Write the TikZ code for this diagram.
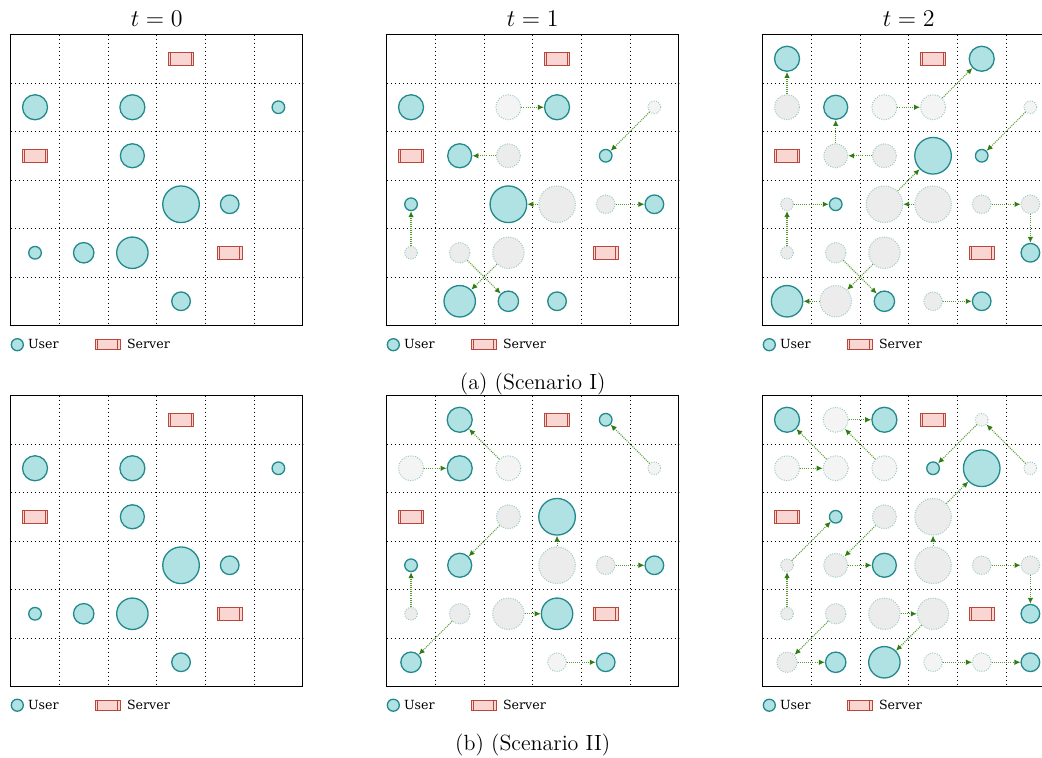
\documentclass[tikz,border=0pt]{standalone}
\usepackage{fontspec}
\newfontfamily\legfont{DejaVu Serif}
\usetikzlibrary{arrows.meta}
\definecolor{ufill}{HTML}{B0E2E3}
\definecolor{uline}{HTML}{23898C}
\definecolor{gfillA}{HTML}{F4F4F4}
\definecolor{gfillB}{HTML}{ECECEC}
\definecolor{gline}{HTML}{9CCBC3}
\definecolor{arr}{HTML}{5A9B36}
\definecolor{arrtip}{HTML}{2F7D12}
\definecolor{sfill}{HTML}{FAD6D2}
\definecolor{sline}{HTML}{B8473C}
\tikzset{
  user/.style={circle, draw=uline, fill=ufill, line width=0.65pt, inner sep=0pt},
  ghostL/.style={circle, draw=gline, fill=gfillA, line width=0.5pt, dash pattern=on 0.5pt off 0.7pt, inner sep=0pt},
  ghostD/.style={ghostL, fill=gfillB},
  mv/.style={draw=arr, line width=0.55pt, dash pattern=on 0.5pt off 0.55pt, -{Latex[length=3pt,width=2.8pt,color=arrtip]}},
  server/.style={rectangle, draw=sline, fill=sfill, line width=0.5pt, inner sep=0pt, minimum width=12.5pt, minimum height=6.4pt},
  srvline/.style={draw=sline, line width=0.5pt},
  gridl/.style={draw=black, line width=0.6pt},
  gdot/.style={draw=black, line width=0.5pt, dash pattern=on 0.5pt off 1.5pt},
  ttl/.style={inner sep=0pt, font=\fontsize{13}{15}\selectfont},
  captxt/.style={inner sep=0pt, font=\fontsize{11}{13}\selectfont},
  legtext/.style={inner sep=0pt, font=\legfont\fontsize{6.3}{7}\selectfont},
  panel/.style={x=24.335pt, y=-24.25pt}
}
\newcommand\srv[3][]{\node[server,#1] (#2) at (#3) {};
  \draw[srvline] ([xshift=1.4pt]#2.north west) -- ([xshift=1.4pt]#2.south west)
                 ([xshift=-1.4pt]#2.north east) -- ([xshift=-1.4pt]#2.south east);}
\newcommand\U[3]{\node[user,minimum size=#3pt] (#1) at (#2) {};}
\newcommand\GL[3]{\node[ghostL,minimum size=#3pt] (#1) at (#2) {};}
\newcommand\GD[3]{\node[ghostD,minimum size=#3pt] (#1) at (#2) {};}
\newcommand\mv[2]{\draw[mv] (#1) -- (#2);}
\newcommand\gridpanel{%
  \foreach \k in {0.5,1.5,2.5,3.5,4.5}{\draw[gdot] (\k,-0.5) -- (\k,5.5); \draw[gdot] (-0.5,\k) -- (5.5,\k);}
  \draw[gridl] (-0.5,-0.5) rectangle (5.5,5.5);
  \srv{s1}{3,0}\srv{s2}{0,2}\srv{s3}{4,4}}
\newcommand\legendrow[3]{%
  \begin{scope}[name prefix=#1, shift={(#2,#3)}]
    \node[user,minimum size=6pt] (lu) at (6.6,0) {};
    \node[legtext,anchor=base west] (lut) at (17,4) {User};
    \srv[minimum height=5.2pt]{ls}{96.8,0}
    \node[legtext,anchor=base west] (lst) at (116,4) {Server};
  \end{scope}}
\newcommand\panelzero{%
  \gridpanel
  \U{uA}{0,1}{12.5}\U{uB}{2,1}{12.5}\U{uC}{5,1}{6.3}\U{uD}{2,2}{12}
  \U{uE}{3,3}{18.3}\U{uF}{4,3}{9.3}\U{uG}{0,4}{6.3}\U{uH}{1,4}{10.2}
  \U{uI}{2,4}{15.7}\U{uJ}{3,5}{9.3}}
\begin{document}
\begin{tikzpicture}[x=0.5pt,y=-0.5pt]
\useasboundingbox (0,0) rectangle (1042,757);
\clip (0,0) rectangle (1042,757);
% titles
\node[ttl,anchor=base] (T0) at (156.7,26) {$t=0$};
\node[ttl,anchor=base] (T1) at (532.7,26) {$t=1$};
\node[ttl,anchor=base] (T2) at (908.7,26) {$t=2$};
% ---------- Scenario I ----------
\begin{scope}[name prefix=a0-, xshift=17.517pt, yshift=-29.375pt, panel]
  \panelzero
\end{scope}
\begin{scope}[name prefix=a1-, xshift=205.517pt, yshift=-29.375pt, panel]
  \gridpanel
  \U{A}{0,1}{12.5}
  \GL{B0}{2,1}{12.5}\U{B}{3,1}{12.5}
  \GD{D0}{2,2}{12}\U{D}{1,2}{12}
  \GL{C0}{5,1}{6.3}\U{C}{4,2}{6.3}
  \GD{G0}{0,4}{6.3}\U{G}{0,3}{6.3}
  \GD{E0}{3,3}{18.3}\U{E}{2,3}{18.3}
  \GD{F0}{4,3}{9.3}\U{F}{5,3}{9.3}
  \GD{I0}{2,4}{15.7}\U{I}{1,5}{15.7}
  \GD{H0}{1,4}{10.2}\U{H}{2,5}{10.2}
  \U{J}{3,5}{9.3}
  \mv{B0}{B}\mv{D0}{D}\mv{C0}{C}\mv{G0}{G}\mv{E0}{E}\mv{F0}{F}\mv{I0}{I}\mv{H0}{H}
\end{scope}
\begin{scope}[name prefix=a2-, xshift=393.517pt, yshift=-29.375pt, panel]
  \gridpanel
  \GD{A0}{0,1}{12.5}\U{A}{0,0}{12.5}
  \GL{B0}{2,1}{12.5}\GL{B1}{3,1}{12.5}\U{B}{4,0}{12.5}
  \GD{D0}{2,2}{12}\GD{D1}{1,2}{12}\U{D}{1,1}{12}
  \GL{C0}{5,1}{6.3}\U{C}{4,2}{6.3}
  \GD{E0}{3,3}{18.3}\GD{E1}{2,3}{18.3}\U{E}{3,2}{18.3}
  \GD{G0}{0,4}{6.3}\GD{G1}{0,3}{6.3}\U{G}{1,3}{6.3}
  \GD{F0}{4,3}{9.3}\GD{F1}{5,3}{9.3}\U{F}{5,4}{9.3}
  \GD{H0}{1,4}{10.2}\U{H}{2,5}{10.2}
  \GD{I0}{2,4}{15.7}\GD{I1}{1,5}{15.7}\U{I}{0,5}{15.7}
  \GD{J0}{3,5}{9.3}\U{J}{4,5}{9.3}
  \mv{A0}{A}\mv{B0}{B1}\mv{B1}{B}\mv{D0}{D1}\mv{D1}{D}\mv{C0}{C}
  \mv{E0}{E1}\mv{E1}{E}\mv{G0}{G1}\mv{G1}{G}\mv{F0}{F1}\mv{F1}{F}
  \mv{H0}{H}\mv{I0}{I1}\mv{I1}{I}\mv{J0}{J}
\end{scope}
% ---------- Scenario II ----------
\begin{scope}[name prefix=b0-, xshift=17.517pt, yshift=-209.875pt, panel]
  \panelzero
\end{scope}
\begin{scope}[name prefix=b1-, xshift=205.517pt, yshift=-209.875pt, panel]
  \gridpanel
  \GL{A0}{0,1}{12.5}\U{A}{1,1}{12.5}
  \GL{B0}{2,1}{12.5}\U{B}{1,0}{12.5}
  \GL{C0}{5,1}{6.3}\U{C}{4,0}{6.3}
  \GD{D0}{2,2}{12}\U{D}{1,3}{12}
  \GD{E0}{3,3}{18.3}\U{E}{3,2}{18.3}
  \GD{F0}{4,3}{9.3}\U{F}{5,3}{9.3}
  \GD{G0}{0,4}{6.3}\U{G}{0,3}{6.3}
  \GD{H0}{1,4}{10.2}\U{H}{0,5}{10.2}
  \GD{I0}{2,4}{15.7}\U{I}{3,4}{15.7}
  \GL{J0}{3,5}{9.3}\U{J}{4,5}{9.3}
  \mv{A0}{A}\mv{B0}{B}\mv{C0}{C}\mv{D0}{D}\mv{E0}{E}
  \mv{F0}{F}\mv{G0}{G}\mv{H0}{H}\mv{I0}{I}\mv{J0}{J}
\end{scope}
\begin{scope}[name prefix=b2-, xshift=393.517pt, yshift=-209.875pt, panel]
  \gridpanel
  \GL{A0}{0,1}{12.5}\GL{A1}{1,1}{12.5}\U{A}{0,0}{12.5}
  \GL{B0}{2,1}{12.5}\GL{B1}{1,0}{12.5}\U{B}{2,0}{12.5}
  \GL{C0}{5,1}{6.3}\GL{C1}{4,0}{6.3}\U{C}{3,1}{6.3}
  \GD{D0}{2,2}{12}\GD{D1}{1,3}{12}\U{D}{2,3}{12}
  \GD{E0}{3,3}{18.3}\GD{E1}{3,2}{18.3}\U{E}{4,1}{18.3}
  \GD{F0}{4,3}{9.3}\GD{F1}{5,3}{9.3}\U{F}{5,4}{9.3}
  \GD{G0}{0,4}{6.3}\GD{G1}{0,3}{6.3}\U{G}{1,2}{6.3}
  \GD{H0}{1,4}{10.2}\GD{H1}{0,5}{10.2}\U{H}{1,5}{10.2}
  \GD{I0}{2,4}{15.7}\GD{I1}{3,4}{15.7}\U{I}{2,5}{15.7}
  \GL{J0}{3,5}{9.3}\GL{J1}{4,5}{9.3}\U{J}{5,5}{9.3}
  \mv{A0}{A1}\mv{A1}{A}\mv{B0}{B1}\mv{B1}{B}\mv{C0}{C1}\mv{C1}{C}
  \mv{D0}{D1}\mv{D1}{D}\mv{E0}{E1}\mv{E1}{E}\mv{F0}{F1}\mv{F1}{F}
  \mv{G0}{G1}\mv{G1}{G}\mv{H0}{H1}\mv{H1}{H}\mv{I0}{I1}\mv{I1}{I}
  \mv{J0}{J1}\mv{J1}{J}
\end{scope}
% legends
\legendrow{la0-}{10.7}{344.7}
\legendrow{la1-}{386.7}{344.7}
\legendrow{la2-}{762.7}{344.7}
\legendrow{lb0-}{10.7}{705.2}
\legendrow{lb1-}{386.7}{705.2}
\legendrow{lb2-}{762.7}{705.2}
% captions
\node[captxt,anchor=base] (capa) at (532.7,389) {(a) (Scenario I)};
\node[captxt,anchor=base] (capb) at (532.7,750) {(b) (Scenario II)};
\end{tikzpicture}
\end{document}
